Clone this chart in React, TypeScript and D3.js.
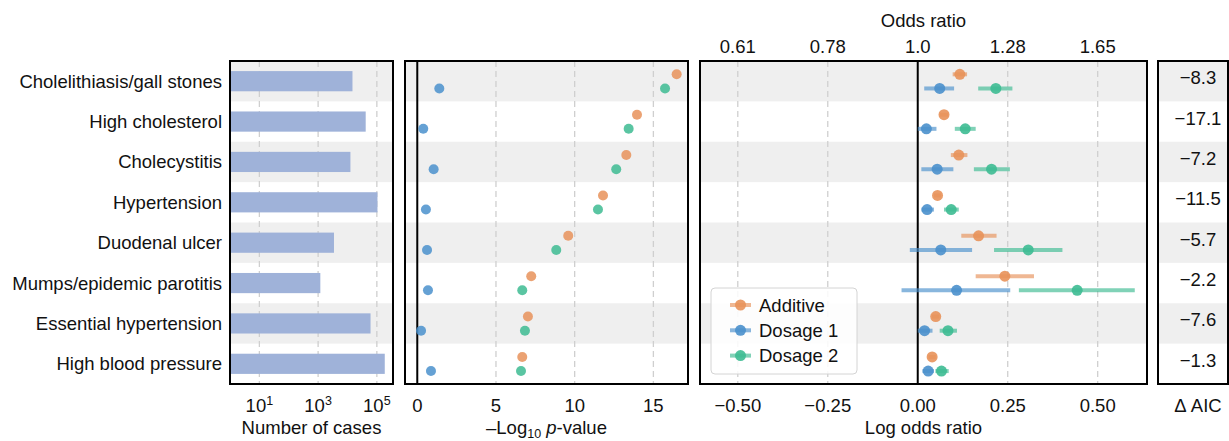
import React from 'react';
import * as d3 from 'd3';

// phenotypes, top to bottom
const categories = [
  'Cholelithiasis/gall stones',
  'High cholesterol',
  'Cholecystitis',
  'Hypertension',
  'Duodenal ulcer',
  'Mumps/epidemic parotitis',
  'Essential hypertension',
  'High blood pressure',
];

const nCases = [14800, 41700, 12600, 105000, 3470, 1190, 61000, 186000];

// -log10 p-values
const pAdditive = [16.48, 13.96, 13.28, 11.8, 9.59, 7.24, 7.03, 6.67];
const pDosage1 = [1.4, 0.38, 1.04, 0.55, 0.62, 0.68, 0.24, 0.87];
const pDosage2 = [15.74, 13.43, 12.64, 11.48, 8.83, 6.67, 6.84, 6.59];

// log odds ratio [estimate, lower, upper]
const lorAdditive = [
  [0.117, 0.097, 0.137], [0.073, 0.061, 0.085], [0.114, 0.092, 0.138], [0.055, 0.045, 0.065],
  [0.169, 0.121, 0.219], [0.242, 0.161, 0.323], [0.05, 0.04, 0.06], [0.04, 0.03, 0.05],
];
const lorDosage1 = [
  [0.061, 0.018, 0.101], [0.024, 0.0, 0.052], [0.054, 0.01, 0.099], [0.026, 0.01, 0.045],
  [0.064, -0.022, 0.151], [0.108, -0.045, 0.257], [0.019, 0.0, 0.041], [0.029, 0.013, 0.045],
];
const lorDosage2 = [
  [0.217, 0.168, 0.263], [0.132, 0.103, 0.161], [0.205, 0.156, 0.256], [0.093, 0.073, 0.114],
  [0.307, 0.212, 0.402], [0.443, 0.281, 0.603], [0.084, 0.061, 0.109], [0.066, 0.049, 0.086],
];

const deltaAIC = ['−8.3', '−17.1', '−7.2', '−11.5', '−5.7', '−2.2', '−7.6', '−1.3'];

const casesTicks = [10, 1000, 100000];
const pTicks = [0, 5, 10, 15];
const lorTicks = [-0.5, -0.25, 0, 0.25, 0.5];
const lorTickLabels = ['−0.50', '−0.25', '0.00', '0.25', '0.50'];
const orTickLabels = ['0.61', '0.78', '1.0', '1.28', '1.65'];

const seriesNames = ['Additive', 'Dosage 1', 'Dosage 2'];
const colors = ['#e8925a', '#4a90cc', '#3dbb92'];

const W = 1229;
const H = 441;
const top = 61;
const bottom = 384;
const font = '"Liberation Sans", Arial, Helvetica, sans-serif';
const fs = 18.5;
const fsSmall = 12.5;

const p1 = { l: 230, r: 393 };
const p2 = { l: 405, r: 688 };
const p3 = { l: 700, r: 1147 };
const p4 = { l: 1158, r: 1228 };

export default function App() {
  const y = d3.scaleBand<string>().domain(categories).range([top, bottom]);
  const bw = y.bandwidth();
  const yUp = (c: string) => (y(c) as number) + bw * 0.33;
  const yLow = (c: string) => (y(c) as number) + bw * 0.68;

  const xCases = d3.scaleLog().domain([1, Math.pow(10, 5.55)]).range([p1.l, p1.r]);
  const xP = d3.scaleLinear().domain([-0.78, 17.2]).range([p2.l, p2.r]);
  const xLor = d3.scaleLinear().domain([-0.605, 0.637]).range([p3.l, p3.r]);

  const bands = (p: { l: number; r: number }) =>
    categories.map((c, i) =>
      i % 2 === 0 ? (
        <rect key={c} x={p.l} y={y(c)} width={p.r - p.l} height={bw} fill="#efefef" />
      ) : null
    );

  const grid = (xs: number[], key: string) =>
    xs.map((x, i) => (
      <line key={key + i} x1={x} x2={x} y1={top} y2={bottom}
        stroke="#cfcfcf" strokeWidth={1.3} strokeDasharray="6,4" />
    ));

  const frame = (p: { l: number; r: number }) => (
    <rect x={p.l} y={top} width={p.r - p.l} height={bottom - top}
      fill="none" stroke="#000" strokeWidth={2} />
  );

  const pSeries = [pAdditive, pDosage1, pDosage2];
  const lorSeries = [lorAdditive, lorDosage1, lorDosage2];

  return (
    <div style={{ position: 'absolute', left: 0, top: 0 }}>
      <svg width={W} height={H} style={{ display: 'block', fontFamily: font }}>
        {/* panel 1: number of cases */}
        {bands(p1)}
        {grid(casesTicks.map(t => xCases(t)), 'g1')}
        {nCases.map((v, i) => (
          <rect key={'b' + i} x={p1.l} y={(y(categories[i]) as number) + bw * 0.25}
            width={xCases(v) - p1.l} height={bw * 0.5} fill="#9fb2d9" />
        ))}
        {frame(p1)}
        {categories.map(c => (
          <text key={'l' + c} x={p1.l - 8} y={(y(c) as number) + bw / 2 + 6.5}
            textAnchor="end" fontSize={fs} fill="#111">{c}</text>
        ))}
        {casesTicks.map(t => (
          <text key={'ct' + t} x={xCases(t)} y={412} textAnchor="middle" fontSize={fs} fill="#111">
            10<tspan dy={-7} fontSize={fsSmall}>{Math.round(Math.log10(t))}</tspan>
          </text>
        ))}
        <text x={(p1.l + p1.r) / 2} y={434} textAnchor="middle" fontSize={fs} fill="#111">Number of cases</text>

        {/* panel 2: p-values */}
        {bands(p2)}
        {grid(pTicks.filter(t => t !== 0).map(t => xP(t)), 'g2')}
        <line x1={xP(0)} x2={xP(0)} y1={top} y2={bottom} stroke="#000" strokeWidth={2} />
        {pSeries.map((s, k) =>
          s.map((v, i) => (
            <circle key={'p' + k + '-' + i} cx={xP(v)}
              cy={k === 0 ? yUp(categories[i]) : yLow(categories[i])}
              r={5} fill={colors[k]} opacity={0.85} />
          ))
        )}
        {frame(p2)}
        {pTicks.map(t => (
          <text key={'pt' + t} x={xP(t)} y={412} textAnchor="middle" fontSize={fs} fill="#111">{t}</text>
        ))}
        <text x={(p2.l + p2.r) / 2} y={434} textAnchor="middle" fontSize={fs} fill="#111">
          –Log<tspan dy={4} fontSize={fsSmall}>10</tspan>
          <tspan dy={-4}> </tspan><tspan fontStyle="italic">p</tspan>-value
        </text>

        {/* panel 3: log odds ratio */}
        {bands(p3)}
        {grid(lorTicks.filter(t => t !== 0).map(t => xLor(t)), 'g3')}
        <line x1={xLor(0)} x2={xLor(0)} y1={top} y2={bottom} stroke="#000" strokeWidth={2} />
        {lorSeries.map((s, k) =>
          s.map((d, i) => {
            const cy = k === 0 ? yUp(categories[i]) : yLow(categories[i]);
            return (
              <g key={'o' + k + '-' + i}>
                <line x1={xLor(d[1])} x2={xLor(d[2])} y1={cy} y2={cy}
                  stroke={colors[k]} strokeWidth={4} opacity={0.65} />
                <circle cx={xLor(d[0])} cy={cy} r={5.5} fill={colors[k]} opacity={0.9} />
              </g>
            );
          })
        )}
        {frame(p3)}
        {lorTicks.map((t, i) => (
          <text key={'lt' + i} x={xLor(t)} y={412} textAnchor="middle" fontSize={fs} fill="#111">{lorTickLabels[i]}</text>
        ))}
        {lorTicks.map((t, i) => (
          <text key={'ot' + i} x={xLor(t)} y={53} textAnchor="middle" fontSize={fs} fill="#111">{orTickLabels[i]}</text>
        ))}
        <text x={(p3.l + p3.r) / 2} y={434} textAnchor="middle" fontSize={fs} fill="#111">Log odds ratio</text>
        <text x={(p3.l + p3.r) / 2} y={27} textAnchor="middle" fontSize={fs} fill="#111">Odds ratio</text>

        {/* legend */}
        <rect x={711} y={288} width={146} height={86} rx={4} fill="#fff" fillOpacity={0.85}
          stroke="#d4d4d4" strokeWidth={1} />
        {seriesNames.map((n, k) => {
          const ly = 305 + k * 25.3;
          return (
            <g key={'lg' + n}>
              <line x1={730} x2={751} y1={ly} y2={ly} stroke={colors[k]} strokeWidth={4} opacity={0.65} />
              <circle cx={740.5} cy={ly} r={5.5} fill={colors[k]} opacity={0.9} />
              <text x={759} y={ly + 6.5} fontSize={fs} fill="#111">{n}</text>
            </g>
          );
        })}

        {/* panel 4: delta AIC */}
        {bands(p4)}
        {frame(p4)}
        {deltaAIC.map((v, i) => (
          <text key={'a' + i} x={1198} y={(y(categories[i]) as number) + bw / 2 + 3}
            textAnchor="middle" fontSize={fs} fill="#111">{v}</text>
        ))}
        <text x={1198} y={412} textAnchor="middle" fontSize={fs} fill="#111">Δ AIC</text>
      </svg>
    </div>
  );
}
